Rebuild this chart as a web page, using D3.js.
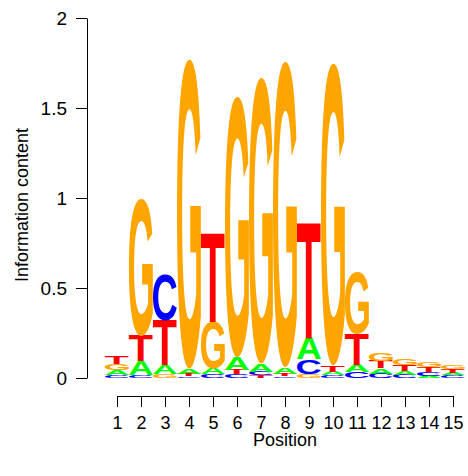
<!DOCTYPE html>
<html>
<head>
<meta charset="utf-8">
<script src="https://cdn.jsdelivr.net/npm/d3@7"></script>
<style>
  html, body { margin: 0; padding: 0; background: #fff; }
  svg { display: block; }
</style>
</head>
<body>
<svg id="chart" width="468" height="476"></svg>
<script>
// ---- data (information content per letter) ----
const positions = [1, 2, 3, 4, 5, 6, 7, 8, 9, 10, 11, 12, 13, 14, 15];
const heightA = [0.030, 0.080, 0.050, 0.030, 0.033, 0.070, 0.045, 0.035, 0.120, 0.020, 0.040, 0.030, 0.020, 0.013, 0.016];
const heightC = [0.015, 0.015, 0.255, 0.010, 0.020, 0.020, 0.020, 0.010, 0.083, 0.015, 0.035, 0.025, 0.018, 0.018, 0.014];
const heightG = [0.035, 0.760, 0.020, 1.720, 0.260, 1.450, 1.590, 1.700, 0.020, 1.680, 0.340, 0.045, 0.036, 0.032, 0.022];
const heightT = [0.045, 0.140, 0.250, 0.012, 0.500, 0.025, 0.015, 0.015, 0.650, 0.035, 0.170, 0.040, 0.035, 0.030, 0.020];
const yTicks = [0, 0.5, 1, 1.5, 2];
const letters = ["A", "C", "G", "T"];
const letterColors = { A: "#00FF00", C: "#0000FF", G: "#FFA500", T: "#FF0000" };

const svg = d3.select("#chart");
const FONT = '"Liberation Sans", Arial, Helvetica, sans-serif';

const x = d3.scaleLinear().domain([1, 15]).range([117, 453]);
const y = d3.scaleLinear().domain([0, 2]).range([378, 18]);
const colW = x(2) - x(1);
const letterW = colW * 1.0;

// glyph metrics for tight fitting of letters
const cv = document.createElement("canvas");
const ctx = cv.getContext("2d");
const REF = 100;
ctx.font = `bold ${REF}px ${FONT}`;
const metrics = {};
letters.forEach(l => {
  const m = ctx.measureText(l);
  metrics[l] = {
    left: m.actualBoundingBoxLeft,
    right: m.actualBoundingBoxRight,
    asc: m.actualBoundingBoxAscent,
    desc: m.actualBoundingBoxDescent
  };
});

// build stacks: ascending order from bottom
const stacks = positions.map((p, i) => {
  const vals = [
    { l: "A", v: heightA[i] },
    { l: "C", v: heightC[i] },
    { l: "G", v: heightG[i] },
    { l: "T", v: heightT[i] }
  ].sort((a, b) => a.v - b.v);
  let acc = 0;
  return vals.map(d => {
    const r = { pos: p, l: d.l, y0: acc, y1: acc + d.v };
    acc += d.v;
    return r;
  });
}).flat();

const gLetters = svg.append("g");
gLetters.selectAll("text")
  .data(stacks)
  .join("text")
  .text(d => d.l)
  .attr("font-family", FONT)
  .attr("font-weight", "bold")
  .attr("font-size", REF)
  .attr("fill", d => letterColors[d.l])
  .attr("transform", d => {
    const m = metrics[d.l];
    const gw = m.left + m.right;
    const gh = m.asc + m.desc;
    const x0 = x(d.pos) - letterW / 2;
    const yTop = y(d.y1);
    const H = y(d.y0) - y(d.y1);
    const sx = letterW / gw;
    const sy = H / gh;
    return `translate(${x0},${yTop}) scale(${sx},${sy}) translate(${m.left},${m.asc})`;
  });

// y axis
const yAxis = d3.axisLeft(y)
  .tickValues(yTicks)
  .tickFormat(d => String(d))
  .tickSize(11)
  .tickSizeOuter(0)
  .tickPadding(9);
const gy = svg.append("g").attr("transform", "translate(87,0)").call(yAxis);
gy.selectAll("text").attr("font-family", FONT).attr("font-size", 19).attr("fill", "#000");
gy.selectAll("line,path").attr("stroke", "#000").attr("stroke-width", 1);

// x axis
const xAxis = d3.axisBottom(x)
  .tickValues(positions)
  .tickFormat(d => String(d))
  .tickSize(11)
  .tickSizeOuter(0)
  .tickPadding(9);
const gx = svg.append("g").attr("transform", "translate(0,396)").call(xAxis);
gx.selectAll("text").attr("font-family", FONT).attr("font-size", 18).attr("fill", "#000");
gx.selectAll("line,path").attr("stroke", "#000").attr("stroke-width", 1);

// titles
svg.append("text")
  .attr("x", 285).attr("y", 446)
  .attr("text-anchor", "middle")
  .attr("font-family", FONT).attr("font-size", 18)
  .text("Position");

svg.append("text")
  .attr("transform", "translate(28,205) rotate(-90)")
  .attr("text-anchor", "middle")
  .attr("font-family", FONT).attr("font-size", 18)
  .text("Information content");
</script>
</body>
</html>
